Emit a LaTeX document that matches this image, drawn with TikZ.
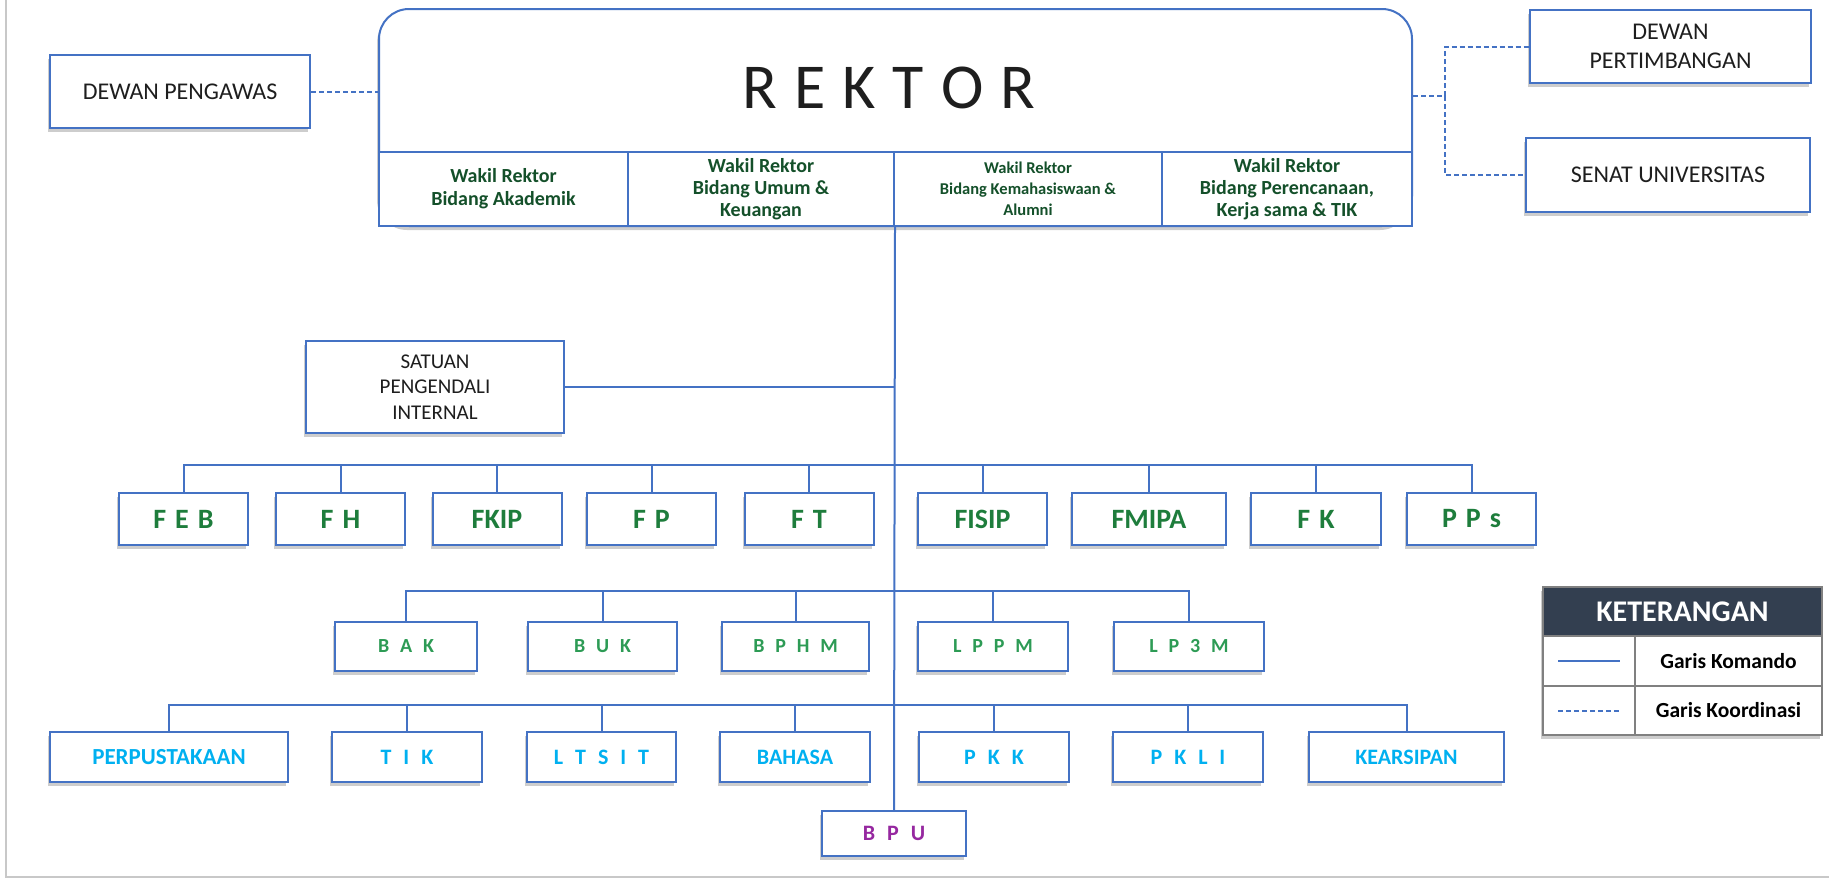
\documentclass[tikz,border=0pt]{standalone}
\usepackage{fontspec}
\setmainfont{Carlito}
\newfontfamily\spacedB[WordSpace=2.4]{Carlito}
\newcommand\facultyfont{\bfseries\fontsize{28}{32}\selectfont\fontdimen2\font=9pt\relax}
\usetikzlibrary{shadows}
\definecolor{boxblue}{RGB}{68,114,196}
\definecolor{ink}{RGB}{30,30,30}
\definecolor{wgreen}{RGB}{20,80,42}
\definecolor{fgreen}{RGB}{30,125,60}
\definecolor{bgreen}{RGB}{45,155,85}
\definecolor{ucyan}{RGB}{0,176,240}
\definecolor{bpurple}{RGB}{150,40,160}
\definecolor{navy}{RGB}{51,63,80}
\definecolor{leggray}{RGB}{128,128,128}
\definecolor{framegray}{RGB}{200,200,200}
\begin{document}
\begin{tikzpicture}[x=1pt,y=-1pt,
  shad/.style={drop shadow={shadow xshift=-2pt, shadow yshift=-4pt, opacity=0.28, fill=black!70}},
  box/.style={draw=boxblue, line width=2pt, fill=white, shad, inner sep=0pt, align=center},
  cell/.style={draw=boxblue, line width=2pt, fill=white, inner sep=0pt, align=center, text=wgreen},
  plain/.style={box, text=ink, font=\fontsize{24}{29}\selectfont},
  fac/.style={box, minimum width=129, minimum height=52, text=fgreen, font=\facultyfont},
  bur/.style={box, minimum height=49, text=bgreen, font=\spacedB\bfseries\fontsize{20}{24}\selectfont},
  unitbox/.style={box, minimum height=50, text=ucyan, font=\spacedB\bfseries\fontsize{22}{26}\selectfont},
  cmd/.style={draw=boxblue, line width=2pt},
  coord/.style={draw=boxblue, line width=2pt, dash pattern=on 5pt off 3pt},
  legcell/.style={draw=leggray, line width=2pt, fill=white, inner sep=0pt, align=center}
]
\useasboundingbox (0,0) rectangle (1829,878);
\draw[framegray, line width=1.5pt] (6,0) -- (6,877) -- (1829,877);

% top level
\node[plain, minimum width=260, minimum height=73] (dp) at (180,91.5) {DEWAN PENGAWAS};
\node[box, rounded corners=30pt, minimum width=1033, minimum height=217] (rektor) at (895.5,117.5) {};
\node[text=ink, font=\fontsize{64}{70}\selectfont, inner sep=0pt] (rtitle) at (889,88) {R\hspace{17pt}E\hspace{17pt}K\hspace{17pt}T\hspace{17pt}O\hspace{17pt}R};
\node[cell, minimum width=249, minimum height=74, font=\bfseries\fontsize{20}{23}\selectfont] (w1) at (503.5,189) {Wakil Rektor\\Bidang Akademik};
\node[cell, minimum width=266, minimum height=74, font=\bfseries\fontsize{20}{22}\selectfont] (w2) at (761,189) {Wakil Rektor\\Bidang Umum \&\\Keuangan};
\node[cell, minimum width=268, minimum height=74, font=\bfseries\fontsize{16.5}{21}\selectfont] (w3) at (1028,189) {Wakil Rektor\\Bidang Kemahasiswaan \&\\Alumni};
\node[cell, minimum width=250, minimum height=74, font=\bfseries\fontsize{20}{22}\selectfont] (w4) at (1287,189) {Wakil Rektor\\Bidang Perencanaan,\\Kerja sama \& TIK};

\node[plain, minimum width=281, minimum height=73, font=\fontsize{24}{29}\selectfont] (dpt) at (1670.5,46.5) {DEWAN\\PERTIMBANGAN};
\node[plain, minimum width=284, minimum height=74] (senat) at (1668,175) {SENAT UNIVERSITAS};

\draw[coord] (dp.east) -- (dp.east -| rektor.west);
\coordinate (jr) at (1445,96);
\draw[coord] (jr -| rektor.east) -- (jr);
\draw[coord] (jr) |- (dpt.west);
\draw[coord] (jr) |- (senat.west);

% SPI
\node[plain, minimum width=258, minimum height=92, font=\fontsize{21}{25.5}\selectfont] (spi) at (435,387) {SATUAN\\PENGENDALI\\INTERNAL};

% BPU and trunk
\node[box, minimum width=144, minimum height=45, text=bpurple, font=\spacedB\bfseries\fontsize{22}{26}\selectfont] (bpu) at (894,833.5) {B P U};
\draw[cmd] (w2.south east) -- (bpu.north);
\draw[cmd] (spi.east) -- (spi.east -| bpu.north);

% faculties
\node[fac] (feb) at (183.5,519) {F E B};
\node[fac] (fh) at (340.5,519) {F H};
\node[fac] (fkip) at (497,519) {FKIP};
\node[fac] (fp) at (651.5,519) {F P};
\node[fac] (ft) at (809,519) {F T};
\node[fac] (fisip) at (982.5,519) {FISIP};
\node[fac, minimum width=154] (fmipa) at (1149,519) {FMIPA};
\node[fac, minimum width=130] (fk) at (1316,519) {F K};
\node[fac] (pps) at (1471.5,519) {P P s};
\coordinate (fbus) at (0,465);
\draw[cmd] (feb.north) -- (feb.north |- fbus) -- (pps.north |- fbus) -- (pps.north);
\foreach \n in {fh,fkip,fp,ft,fisip,fmipa,fk} \draw[cmd] (\n.north) -- (\n.north |- fbus);

% bureaus
\node[bur, minimum width=142] (bak) at (406,646.5) {B A K};
\node[bur, minimum width=149] (buk) at (602.5,646.5) {B U K};
\node[bur, minimum width=147] (bphm) at (795.5,646.5) {B P H M};
\node[bur, minimum width=150] (lppm) at (993,646.5) {L P P M};
\node[bur, minimum width=150] (lp3m) at (1189,646.5) {L P 3 M};
\coordinate (bbus) at (0,591);
\draw[cmd] (bak.north) -- (bak.north |- bbus) -- (lp3m.north |- bbus) -- (lp3m.north);
\foreach \n in {buk,bphm,lppm} \draw[cmd] (\n.north) -- (\n.north |- bbus);

% units
\node[unitbox, minimum width=238, font=\bfseries\fontsize{23}{26}\selectfont] (perp) at (169,757) {PERPUSTAKAAN};
\node[unitbox, minimum width=150] (tik) at (407,757) {T I K};
\node[unitbox, minimum width=149] (ltsit) at (601.5,757) {L T S I T};
\node[unitbox, minimum width=150, font=\bfseries\fontsize{22}{26}\selectfont] (bahasa) at (795,757) {BAHASA};
\node[unitbox, minimum width=150] (pkk) at (994,757) {P K K};
\node[unitbox, minimum width=150] (pkli) at (1188,757) {P K L I};
\node[unitbox, minimum width=195, font=\bfseries\fontsize{22}{26}\selectfont] (kears) at (1406.5,757) {KEARSIPAN};
\coordinate (ubus) at (0,705);
\draw[cmd] (perp.north) -- (perp.north |- ubus) -- (kears.north |- ubus) -- (kears.north);
\foreach \n in {tik,ltsit,bahasa,pkk,pkli} \draw[cmd] (\n.north) -- (\n.north |- ubus);

% legend
\node[legcell, shad, minimum width=279, minimum height=148] (leg) at (1682.5,661) {};
\node[fill=navy, draw=leggray, line width=2pt, minimum width=279, minimum height=49, inner sep=0pt, text=white, font=\bfseries\fontsize{30}{34}\selectfont] (kh) at (1682.5,611.5) {KETERANGAN};
\node[legcell, minimum width=92, minimum height=50] (lc1) at (1589,661) {};
\node[legcell, minimum width=187, minimum height=50, font=\bfseries\fontsize{21.5}{25}\selectfont] (lt1) at (1728.5,661) {Garis Komando};
\node[legcell, minimum width=92, minimum height=49] (lc2) at (1589,710.5) {};
\node[legcell, minimum width=187, minimum height=49, font=\bfseries\fontsize{21.5}{25}\selectfont] (lt2) at (1728.5,710.5) {Garis Koordinasi};
\draw[cmd] ([xshift=-31pt]lc1.center) -- ([xshift=31pt]lc1.center);
\draw[coord] ([xshift=-31pt]lc2.center) -- ([xshift=31pt]lc2.center);
\end{tikzpicture}
\end{document}
